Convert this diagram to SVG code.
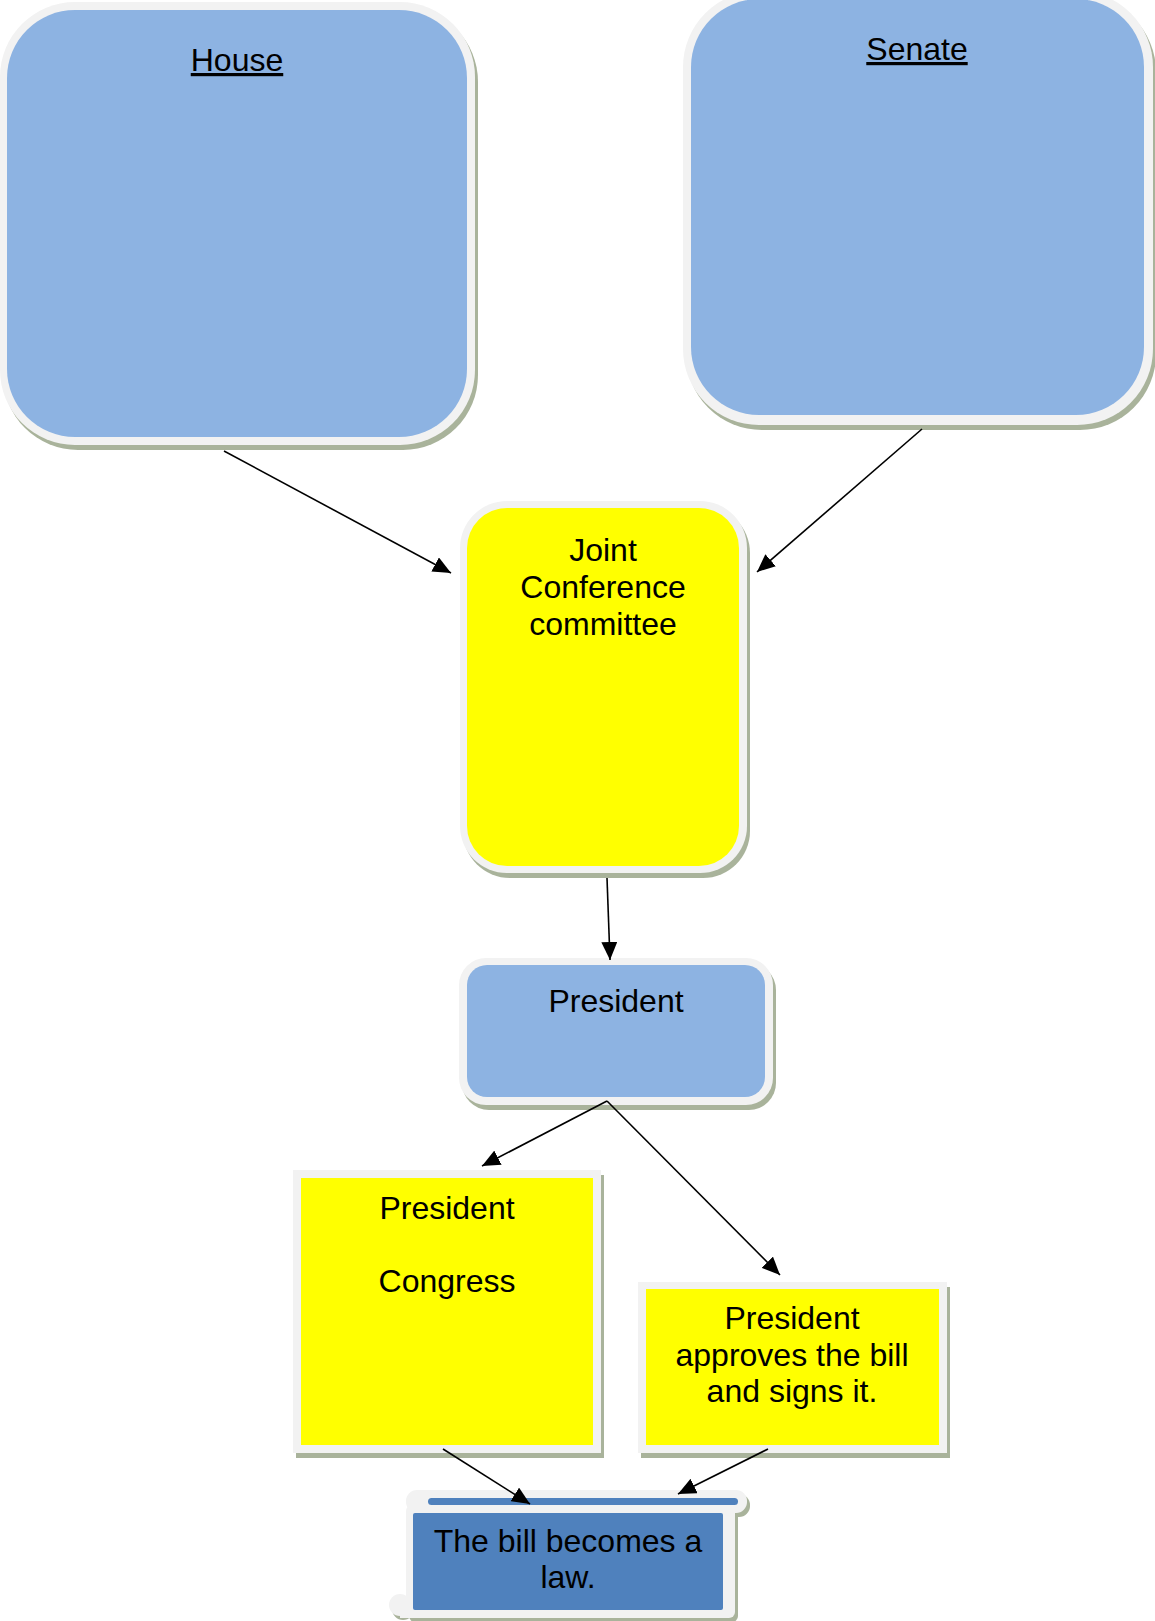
<svg xmlns="http://www.w3.org/2000/svg" width="1155" height="1621" viewBox="0 0 1155 1621">
<style>
.shadow{fill:#A9B39B}
.rim{fill:#F2F2F2}
.lblue{fill:#8DB3E2}
.yellow{fill:#FFFF00}
.dblue{fill:#4F81BD}
text{font-family:"Liberation Sans",Arial,sans-serif;font-size:32px;fill:#000;text-anchor:middle}
.u{text-decoration:underline}
.conn line{stroke:#000;stroke-width:1.6;fill:none}
</style>
<defs>
<marker id="arr" markerUnits="userSpaceOnUse" markerWidth="19" markerHeight="16" refX="18" refY="8" orient="auto">
<path d="M0,0 L18,8 L0,16 z" fill="#000"/>
</marker>
</defs>
<rect width="1155" height="1621" fill="#fff"/>

<g id="house">
<rect class="shadow" x="3" y="7" width="475" height="443" rx="75"/>
<rect class="rim" x="0" y="2" width="475" height="443" rx="75"/>
<rect class="lblue" x="7" y="10" width="460" height="427" rx="68"/>
<text class="u" x="237" y="71">House</text>
</g>

<g id="senate">
<rect class="shadow" x="686" y="-4" width="470" height="434" rx="76"/>
<rect class="rim" x="683" y="-9" width="470" height="434" rx="76"/>
<rect class="lblue" x="691" y="-1" width="453" height="416" rx="68"/>
<text class="u" x="917" y="60">Senate</text>
</g>

<g id="joint">
<rect class="shadow" x="463" y="506" width="287" height="372" rx="47"/>
<rect class="rim" x="460" y="501" width="287" height="372" rx="47"/>
<rect class="yellow" x="467" y="508" width="272" height="358" rx="40"/>
<text x="603" y="561">Joint</text>
<text x="603" y="598">Conference</text>
<text x="603" y="635">committee</text>
</g>

<g id="president">
<rect class="shadow" x="462" y="963" width="314" height="147" rx="27"/>
<rect class="rim" x="459" y="958" width="314" height="147" rx="27"/>
<rect class="lblue" x="467" y="965" width="298" height="132" rx="20"/>
<text x="616" y="1012">President</text>
</g>

<g id="president-congress">
<rect class="shadow" x="296" y="1175" width="308" height="283"/>
<rect class="rim" x="293" y="1170" width="308" height="283"/>
<rect class="yellow" x="301" y="1178" width="292" height="267"/>
<text x="447" y="1219">President</text>
<text x="447" y="1292">Congress</text>
</g>

<g id="president-approves">
<rect class="shadow" x="641" y="1287" width="309" height="171"/>
<rect class="rim" x="638" y="1282" width="309" height="171"/>
<rect class="yellow" x="646" y="1289" width="293" height="156"/>
<text x="792" y="1329">President</text>
<text x="792" y="1366">approves the bill</text>
<text x="792" y="1402">and signs it.</text>
</g>

<g id="law">
<g class="shadow" transform="translate(3,4)">
<rect x="406" y="1490" width="341" height="23" rx="11"/>
<rect x="406" y="1505" width="329" height="113" rx="6"/>
<circle cx="400" cy="1605" r="11"/>
</g>
<g class="rim">
<rect x="406" y="1490" width="341" height="23" rx="11"/>
<rect x="406" y="1505" width="329" height="113" rx="6"/>
<circle cx="400" cy="1605" r="11"/>
<rect x="400" y="1604" width="20" height="14"/>
</g>
<rect class="dblue" x="428" y="1498" width="310" height="7" rx="3.5"/>
<rect class="dblue" x="413" y="1513" width="310" height="97" rx="2"/>
<text x="568" y="1552">The bill becomes a</text>
<text x="568" y="1588">law.</text>
</g>

<g id="connectors" class="conn">
<line x1="224" y1="451" x2="451" y2="573" marker-end="url(#arr)"/>
<line x1="922" y1="429" x2="757" y2="572" marker-end="url(#arr)"/>
<line x1="607" y1="878" x2="610" y2="960" marker-end="url(#arr)"/>
<line x1="607" y1="1101" x2="482" y2="1166" marker-end="url(#arr)"/>
<line x1="607" y1="1101" x2="780" y2="1275" marker-end="url(#arr)"/>
<line x1="443" y1="1449" x2="530" y2="1504" marker-end="url(#arr)"/>
<line x1="768" y1="1449" x2="678" y2="1494" marker-end="url(#arr)"/>
</g>
</svg>
